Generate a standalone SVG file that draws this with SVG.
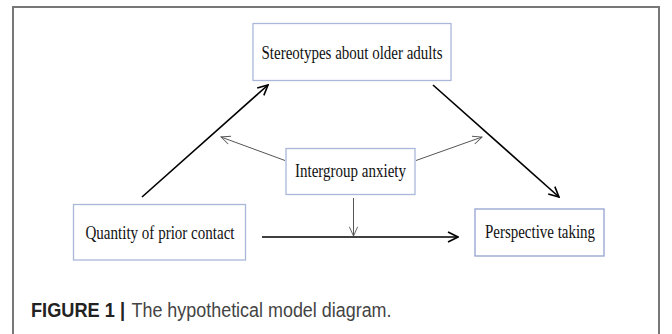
<svg xmlns="http://www.w3.org/2000/svg" width="672" height="334" viewBox="0 0 672 334">
<style>
.box{fill:#fff;stroke:#a9b7d9;stroke-width:1.3}
.lbl{font-family:"Liberation Serif","Times New Roman",serif;font-size:18px;fill:#111;text-anchor:middle}
.thick{stroke:#000;stroke-width:1.6;fill:none}
.thin{stroke:#555;stroke-width:1;fill:none}
.cap{font-family:"Liberation Sans",Arial,sans-serif;font-size:20px}
</style>
<defs>
<marker id="ah" viewBox="0 0 12 12" refX="11" refY="6" markerWidth="12" markerHeight="12" markerUnits="userSpaceOnUse" orient="auto">
<path d="M1,1 L11,6 L1,11" fill="none" stroke="#000" stroke-width="1.6"/>
</marker>
<marker id="ahThin" viewBox="0 0 12 12" refX="11" refY="6" markerWidth="11" markerHeight="11" markerUnits="userSpaceOnUse" orient="auto">
<path d="M1,1.5 L11,6 L1,10.5" fill="none" stroke="#555" stroke-width="1"/>
</marker>
</defs>
<rect width="672" height="334" fill="#fff"/>
<path d="M13,334 V7 H659 V334" fill="none" stroke="#777" stroke-width="2"/>
<g id="connectors">
<line class="thick" x1="142" y1="197" x2="268" y2="85" marker-end="url(#ah)"/>
<line class="thick" x1="433" y1="85" x2="559" y2="197" marker-end="url(#ah)"/>
<line class="thick" x1="262" y1="237" x2="458" y2="237" marker-end="url(#ah)"/>
<line class="thin" x1="353.5" y1="198" x2="353.5" y2="236" marker-end="url(#ahThin)"/>
<line class="thin" x1="285" y1="160.5" x2="221" y2="137" marker-end="url(#ahThin)"/>
<line class="thin" x1="416" y1="160.5" x2="482" y2="137" marker-end="url(#ahThin)"/>
</g>
<g id="stereotypes">
<rect class="box" x="253" y="23.5" width="198" height="57"/>
<text class="lbl" x="352" y="58.5" textLength="181" lengthAdjust="spacingAndGlyphs">Stereotypes about older adults</text>
</g>
<g id="anxiety">
<rect class="box" x="286" y="148.5" width="129" height="46"/>
<text class="lbl" x="350.5" y="177" textLength="111" lengthAdjust="spacingAndGlyphs">Intergroup anxiety</text>
</g>
<g id="contact">
<rect class="box" x="73.5" y="204.5" width="172" height="55.5"/>
<text class="lbl" x="160" y="238.5" textLength="149" lengthAdjust="spacingAndGlyphs">Quantity of prior contact</text>
</g>
<g id="perspective">
<rect class="box" x="475" y="209" width="129" height="47" style="stroke:#95a1d2"/>
<text class="lbl" x="540" y="238" textLength="110" lengthAdjust="spacingAndGlyphs">Perspective taking</text>
</g>
<g id="caption">
<text class="cap" x="31" y="316.5" font-weight="bold" fill="#222" textLength="94" lengthAdjust="spacingAndGlyphs">FIGURE 1 |</text>
<text class="cap" x="131.5" y="316.5" fill="#444" textLength="260" lengthAdjust="spacingAndGlyphs">The hypothetical model diagram.</text>
</g>
</svg>
